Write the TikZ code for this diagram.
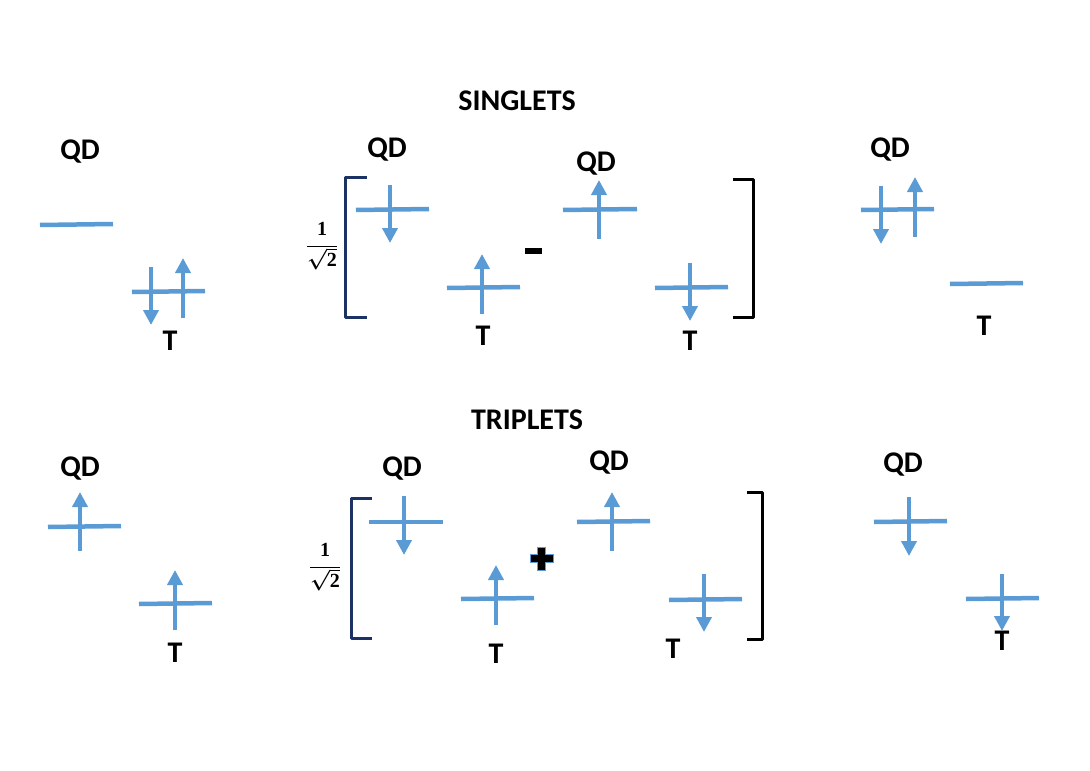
\documentclass[tikz,border=0pt]{standalone}
\usepackage{fontspec}
\setmainfont{Carlito}
\newfontfamily\fracfont{Liberation Serif}
\usetikzlibrary{arrows.meta}
\definecolor{spinblue}{RGB}{91,155,213}
\definecolor{navy}{RGB}{28,50,100}
\newcommand{\fracdigit}[1]{\hbox{\fracfont\bfseries #1}}
\tikzset{
  level/.style={draw=spinblue, line width=4.5pt},
  spin/.style={draw=spinblue, line width=4.5pt, -{Triangle[width=15pt,length=15pt]}},
  lbl/.style={font=\fontsize{30}{34}\selectfont\bfseries, inner sep=0pt, anchor=base},
  frac/.style={font=\fontsize{20}{24}\selectfont\boldmath, inner sep=0pt},
  brk/.style={line width=3pt, line join=round},
  pluscross/.style={fill=black, draw=spinblue, line width=0.6pt},
}
\begin{document}
\begin{tikzpicture}[x=1pt,y=-1pt]
\useasboundingbox (0,0) rectangle (1090,771);

% titles
\node[lbl] (tsing) at (517,110) {SINGLETS};
\node[lbl] (ttrip) at (527,429) {TRIPLETS};

% ---------- SINGLETS, left ----------
\node[lbl] (qd1) at (80,159) {QD};
\draw[level] (40,225) -- (113,224);
\draw[level] (132,292) -- (205,291);
\draw[spin] (151,267) -- (151,325);
\draw[spin] (183,318) -- (183,258);
\node[lbl] (t1) at (170,350) {T};

% ---------- SINGLETS, middle ----------
\node[frac] (f1) at (322,246) {$\displaystyle\frac{\fracdigit{1}}{\sqrt{\fracdigit{2}}}$};
\draw[brk, draw=navy] (367,177) -- (345,177) -- (345,317) -- (367,317);
\node[lbl] (qd2) at (387,157) {QD};
\draw[level] (356,210) -- (429,209);
\draw[spin] (390,185) -- (390,243);
\draw[level] (447,288) -- (520,287);
\draw[spin] (482,314) -- (482,254);
\node[lbl] (t2) at (483,345) {T};
\node[fill=black, minimum width=17pt, minimum height=6pt, inner sep=0pt] (minus) at (533.5,251) {};
\node[lbl] (qd3) at (596,171) {QD};
\draw[level] (563,210) -- (637,209);
\draw[spin] (599,239) -- (599,180);
\draw[level] (655,288) -- (728,287);
\draw[spin] (690,263) -- (690,321);
\node[lbl] (t3) at (690,350) {T};
\draw[brk] (733,179) -- (753,179) -- (753,317) -- (733,317);

% ---------- SINGLETS, right ----------
\node[lbl] (qd4) at (890,157) {QD};
\draw[level] (861,210) -- (934,209);
\draw[spin] (881,186) -- (881,244);
\draw[spin] (915,237) -- (915,177);
\draw[level] (950,284) -- (1023,283);
\node[lbl] (t4) at (984,335) {T};

% ---------- TRIPLETS, left ----------
\node[lbl] (qd5) at (80,476) {QD};
\draw[level] (48,527) -- (121,526);
\draw[spin] (80,551) -- (80,492);
\draw[level] (139,604) -- (212,603);
\draw[spin] (175,630) -- (175,570);
\node[lbl] (t5) at (175,662) {T};

% ---------- TRIPLETS, middle ----------
\node[frac] (f2) at (325,567) {$\displaystyle\frac{\fracdigit{1}}{\sqrt{\fracdigit{2}}}$};
\draw[brk, draw=navy] (372,498) -- (351,498) -- (351,638) -- (372,638);
\node[lbl] (qd6) at (402,476) {QD};
\draw[level] (369,522) -- (443,522);
\draw[spin] (404,496) -- (404,555);
\draw[level] (461,599) -- (534,598);
\draw[spin] (496,625) -- (496,565);
\node[lbl] (t6) at (496,663) {T};
\coordinate (plus) at (541.5,558.5);
\draw[pluscross] ([shift={(-11.5,-4)}]plus) -- ([shift={(-4,-4)}]plus) -- ([shift={(-4,-11.5)}]plus)
  -- ([shift={(4,-11.5)}]plus) -- ([shift={(4,-4)}]plus) -- ([shift={(11.5,-4)}]plus)
  -- ([shift={(11.5,4)}]plus) -- ([shift={(4,4)}]plus) -- ([shift={(4,11.5)}]plus)
  -- ([shift={(-4,11.5)}]plus) -- ([shift={(-4,4)}]plus) -- ([shift={(-11.5,4)}]plus) -- cycle;
\node[lbl] (qd7) at (609,470) {QD};
\draw[level] (577,522) -- (650,521);
\draw[spin] (612,551) -- (612,492);
\draw[level] (669,600) -- (742,599);
\draw[spin] (704,574) -- (704,632);
\node[lbl] (t7) at (673,658) {T};
\draw[brk] (747,492) -- (762,492) -- (762,639) -- (747,639);

% ---------- TRIPLETS, right ----------
\node[lbl] (qd8) at (903,472) {QD};
\draw[level] (874,522) -- (947,521);
\draw[spin] (909,497) -- (909,556);
\draw[level] (966,599) -- (1039,598);
\node[lbl] (t8) at (1002,650) {T};
\draw[spin] (1002,574) -- (1002,631);
\end{tikzpicture}
\end{document}
